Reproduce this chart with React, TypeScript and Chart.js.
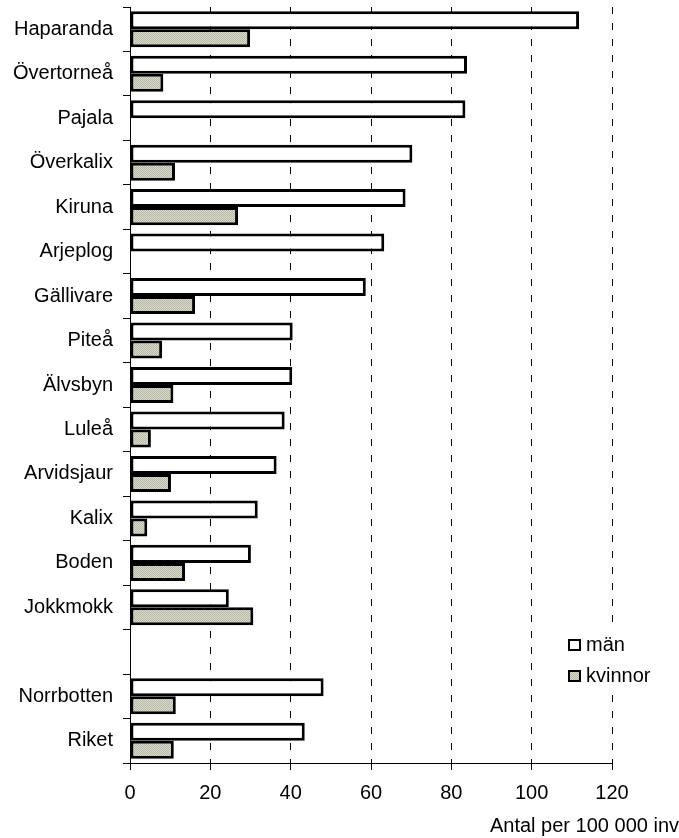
import React, { useEffect, useRef } from "react";
import { Chart, registerables } from "chart.js";

Chart.register(...registerables);

const categories: string[] = [
  "Haparanda", "Övertorneå", "Pajala", "Överkalix", "Kiruna", "Arjeplog", "Gällivare",
  "Piteå", "Älvsbyn", "Luleå", "Arvidsjaur", "Kalix", "Boden", "Jokkmokk", "",
  "Norrbotten", "Riket",
];
const manValues: (number | null)[] = [
  111.8, 83.9, 83.5, 70.3, 68.6, 63.3, 58.7, 40.5, 40.4, 38.5, 36.5, 31.8, 30.1, 24.6, null, 48.2, 43.5,
];
const kvinnorValues: (number | null)[] = [
  29.9, 8.3, null, 11.2, 26.9, null, 16.2, 8.0, 10.8, 5.2, 10.2, 4.3, 13.7, 30.7, null, 11.4, 10.9,
];
const seriesNames: string[] = ["män", "kvinnor"];
const xTicks: number[] = [0, 20, 40, 60, 80, 100, 120];
const axisTitle = "Antal per 100 000 inv";

const FONT = "'Liberation Sans', Arial, sans-serif";

function makePattern(): CanvasPattern | string {
  const c = document.createElement("canvas");
  c.width = 2;
  c.height = 2;
  const g = c.getContext("2d");
  if (!g) return "#cdcdbd";
  g.fillStyle = "#dadacb";
  g.fillRect(0, 0, 2, 2);
  g.fillStyle = "#b9b9a9";
  g.fillRect(0, 0, 1, 1);
  g.fillRect(1, 1, 1, 1);
  const p = g.createPattern(c, "repeat");
  return p || "#cdcdbd";
}

export default function App() {
  const ref = useRef<HTMLCanvasElement | null>(null);

  useEffect(() => {
    if (!ref.current) return;
    const pattern = makePattern();

    const legendPlugin = {
      id: "customLegend",
      afterDraw(chart: any) {
        const { ctx, chartArea } = chart;
        const x0 = chartArea.right - 44;
        const y0 = chartArea.bottom - 124;
        ctx.save();
        ctx.fillStyle = "#fff";
        ctx.fillRect(x0 - 3, y0 - 8, 96, 60);
        chart.data.datasets.forEach((ds: any, i: number) => {
          const by = y0 + i * 31;
          ctx.fillStyle = ds.backgroundColor;
          ctx.fillRect(x0, by, 13, 12);
          ctx.strokeStyle = "#000";
          ctx.lineWidth = 2;
          ctx.strokeRect(x0 + 1, by + 1, 11, 10);
          ctx.fillStyle = "#000";
          ctx.font = `20px ${FONT}`;
          ctx.textAlign = "left";
          ctx.textBaseline = "middle";
          ctx.fillText(ds.label, x0 + 18, by + 6);
        });
        ctx.restore();
      },
    };

    const chart = new Chart(ref.current, {
      type: "bar",
      data: {
        labels: categories,
        datasets: [
          {
            label: seriesNames[0],
            data: manValues,
            backgroundColor: "#ffffff",
            borderColor: "#000000",
            borderWidth: 3,
            borderSkipped: false,
            categoryPercentage: 0.81,
            barPercentage: 1.0,
          },
          {
            label: seriesNames[1],
            data: kvinnorValues,
            backgroundColor: pattern as any,
            borderColor: "#000000",
            borderWidth: 3,
            borderSkipped: false,
            categoryPercentage: 0.81,
            barPercentage: 1.0,
          },
        ],
      },
      options: {
        indexAxis: "y",
        responsive: false,
        animation: false,
        layout: { padding: { top: 7, left: 0, right: 0, bottom: 0 } },
        plugins: {
          legend: { display: false },
          tooltip: { enabled: false },
          title: {
            display: true,
            text: axisTitle,
            position: "bottom",
            align: "end",
            color: "#000",
            font: { family: FONT, size: 20, weight: "normal" },
            padding: { top: 0, bottom: 0 },
          },
        },
        scales: {
          x: {
            type: "linear",
            min: 0,
            max: 120,
            afterBuildTicks: (scale: any) => {
              scale.ticks = xTicks.map((v) => ({ value: v }));
            },
            afterFit: (scale: any) => {
              scale.paddingLeft = 0;
              scale.paddingRight = 67;
              scale.height = 51;
            },
            grid: {
              color: "#000",
              lineWidth: 1,
              drawTicks: true,
              tickLength: 7,
              tickBorderDash: [],
              tickColor: "#000",
            },
            border: { display: true, color: "#000", width: 1, dash: [7, 9] },
            ticks: {
              color: "#000",
              padding: 11,
              font: { family: FONT, size: 20 },
              maxRotation: 0,
            },
          },
          y: {
            type: "category",
            afterFit: (scale: any) => {
              scale.width = 130;
              scale.paddingTop = 0;
              scale.paddingBottom = 0;
            },
            grid: {
              display: true,
              drawOnChartArea: false,
              drawTicks: true,
              tickLength: 7,
              color: "#000",
              tickColor: "#000",
              offset: true,
            },
            border: { display: true, color: "#000", width: 1 },
            ticks: {
              color: "#000",
              padding: 10,
              font: { family: FONT, size: 20 },
              autoSkip: false,
            },
          },
        },
      },
      plugins: [legendPlugin],
    } as any);

    return () => chart.destroy();
  }, []);

  return (
    <div style={{ position: "fixed", left: 0, top: 0, width: 679, height: 838, background: "#fff" }}>
      <canvas ref={ref} width={679} height={838} style={{ width: 679, height: 838, display: "block" }} />
    </div>
  );
}
